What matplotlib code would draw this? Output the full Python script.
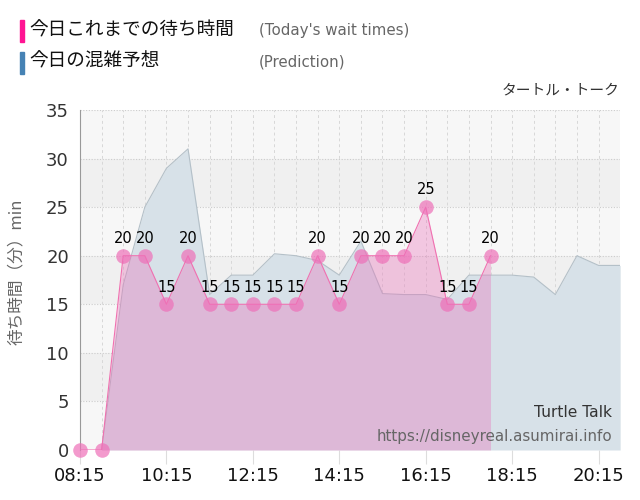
import numpy as np
import matplotlib
matplotlib.use("Agg")
import matplotlib.pyplot as plt
from matplotlib.patches import Rectangle

plt.rcParams['font.family'] = ['DejaVu Sans', 'Noto Sans CJK JP']

# --- data (minutes since midnight) ---
actual_times = ["08:15", "08:45", "09:15", "09:45", "10:15", "10:45", "11:15", "11:45",
                "12:15", "12:45", "13:15", "13:45", "14:15", "14:45", "15:15", "15:45",
                "16:15", "16:45", "17:15", "17:45"]
actual_wait = [0, 0, 20, 20, 15, 20, 15, 15, 15, 15, 15, 20, 15, 20, 20, 20, 25, 15, 15, 20]

pred_times = ["08:45", "09:15", "09:45", "10:15", "10:45", "11:15", "11:45", "12:15",
              "12:45", "13:15", "13:45", "14:15", "14:45", "15:15", "15:45", "16:15",
              "16:45", "17:15", "17:45", "18:15", "18:45", "19:15", "19:45", "20:15", "20:45"]
pred_wait = [0, 17, 25, 29, 31, 16, 18, 18, 20.2, 20, 19.5, 18, 21.5, 16.1, 16, 16,
             15.5, 18, 18, 18, 17.8, 16, 20, 19, 19]

tick_labels = ["08:15", "10:15", "12:15", "14:15", "16:15", "18:15", "20:15"]


def to_min(s):
    h, m = s.split(":")
    return int(h) * 60 + int(m)


ax_t = np.array([to_min(t) for t in actual_times])
pr_t = np.array([to_min(t) for t in pred_times])

fig = plt.figure(figsize=(6.4, 5.0), dpi=100)
ax = fig.add_axes([0.125, 0.10, 0.844, 0.68])

xmin, xmax = to_min("08:15"), to_min("20:45")
ax.set_xlim(xmin, xmax)
ax.set_ylim(0, 35)

# alternating bands
for i, lo in enumerate(range(0, 35, 5)):
    c = '#f7f7f7' if i % 2 == 0 else '#f0f0f0'
    ax.axhspan(lo, lo + 5, color=c, zorder=0, lw=0)

# grid
for y in range(5, 36, 5):
    ax.axhline(y, color='#cccccc', lw=0.8, ls=(0, (1, 1.5)), zorder=1)
for x in range(xmin + 30, xmax + 1, 30):
    ax.axvline(x, color='#d8d8d8', lw=0.7, ls=(0, (3, 3)), zorder=1)

# prediction area
ax.fill_between(pr_t, 0, pred_wait, color='#d7e1e8', lw=0, zorder=2)
ax.plot(pr_t, pred_wait, color='#b4c0c8', lw=0.8, zorder=2)

# actual area
ax.fill_between(ax_t, 0, actual_wait, color='#eb6eb9', alpha=0.35, lw=0, zorder=3)
ax.plot(ax_t, actual_wait, color='#f070b0', lw=0.8, zorder=4)
ax.scatter(ax_t, actual_wait, s=110, color='#ee70b8', alpha=0.7, lw=0,
           zorder=5, clip_on=False)
for t, v in zip(ax_t, actual_wait):
    if v > 0:
        ax.annotate(str(v), (t, v), xytext=(0, 7), textcoords='offset points',
                    ha='center', va='bottom', fontsize=10.5, color='#000000', zorder=6)

# axes styling
for s in ['top', 'right', 'bottom']:
    ax.spines[s].set_visible(False)
ax.spines['left'].set_color('#999999')
ax.set_yticks(range(0, 36, 5))
ax.set_xticks([to_min(t) for t in tick_labels])
ax.set_xticklabels(tick_labels, fontsize=13, color='#111111')
ax.tick_params(axis='y', length=0, labelsize=13, labelcolor='#333333', pad=8)
ax.tick_params(axis='x', length=10, color='#dddddd', pad=2)
ax.set_ylabel("待ち時間（分）min", fontsize=12, color='#666666',
              family=['Noto Sans CJK JP', 'DejaVu Sans'])
ax.yaxis.set_label_coords(-0.102, 0.525)

# watermark
ax.text(0.985, 0.11, "Turtle Talk", transform=ax.transAxes, ha='right', va='center',
        fontsize=11.2, color='#333333', zorder=7)
ax.text(0.985, 0.04, "https://disneyreal.asumirai.info", transform=ax.transAxes,
        ha='right', va='center', fontsize=10.9, color='#666666', zorder=7)

# legend
jp = ['Noto Sans CJK JP', 'DejaVu Sans']
fig.patches.append(Rectangle((20 / 640, 1 - 42 / 500), 4 / 640, 22 / 500,
                             transform=fig.transFigure, color='#ff1493'))
fig.patches.append(Rectangle((20 / 640, 1 - 74 / 500), 4 / 640, 22 / 500,
                             transform=fig.transFigure, color='#4682b4'))
fig.text(29 / 640, 1 - 31 / 500, "今日これまでの待ち時間", fontsize=13.4, family=jp,
         va='center', color='#111111')
fig.text(29 / 640, 1 - 62 / 500, "今日の混雑予想", fontsize=13.4, family=jp,
         va='center', color='#111111')
fig.text(259 / 640, 1 - 31 / 500, "(Today's wait times)", fontsize=10.8, va='center',
         color='#666666')
fig.text(259 / 640, 1 - 62 / 500, "(Prediction)", fontsize=10.8, va='center',
         color='#666666')

fig.text(620 / 640, 1 - 90 / 500, "タートル・トーク", fontsize=10.6, family=jp,
         ha='right', va='center', color='#333333')

fig.savefig("out.png", dpi=100)
